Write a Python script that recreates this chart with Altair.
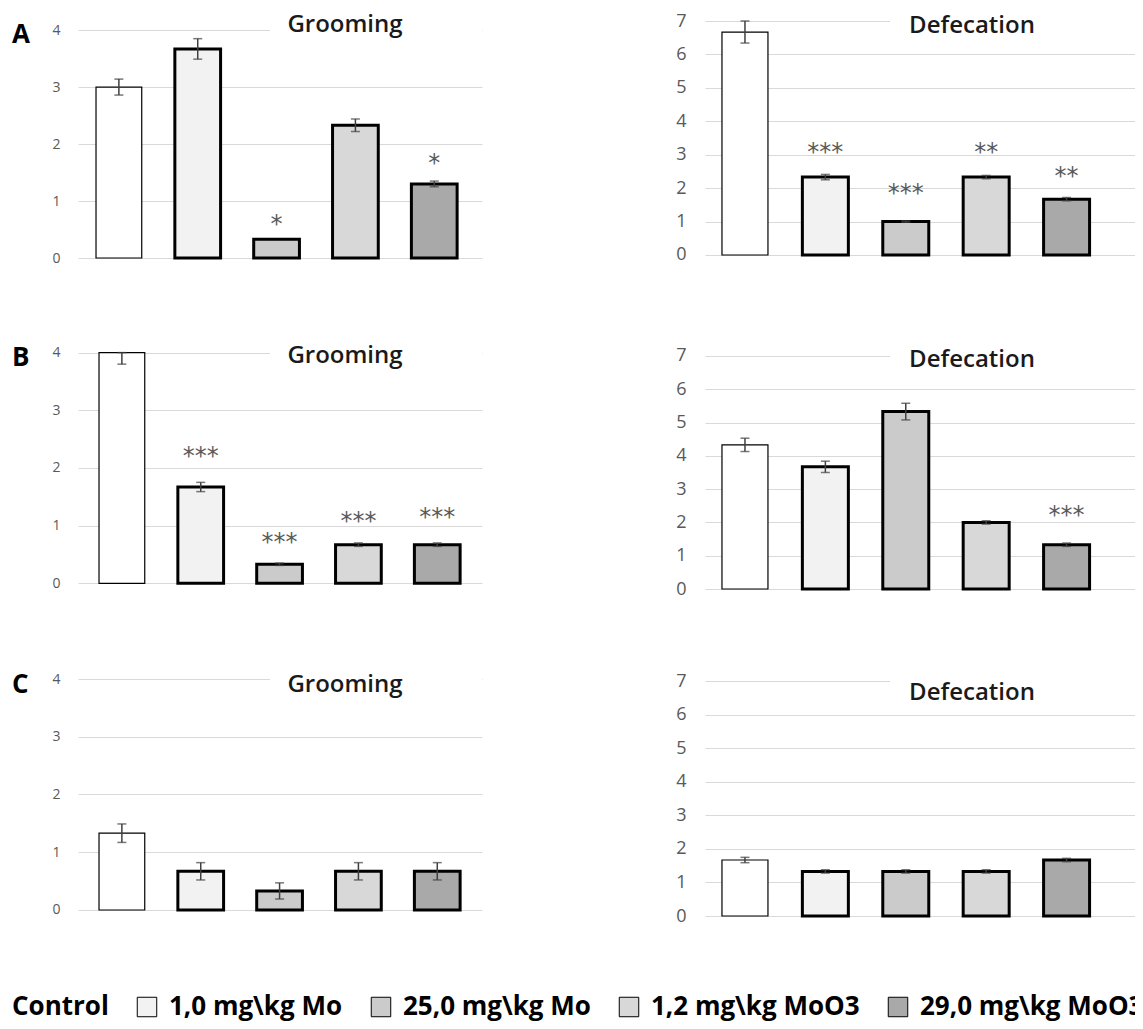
import altair as alt
import pandas as pd

groups = ["Control", "1,0 mg\\kg Mo", "25,0 mg\\kg Mo", "1,2 mg\\kg MoO3", "29,0 mg\\kg MoO3"]
fills = ["#ffffff", "#f2f2f2", "#cbcbcb", "#d8d8d8", "#a9a9a9"]

# Row A
a_groom = [3.0, 3.67, 0.33, 2.33, 1.3]
a_groom_err = [0.14, 0.18, 0.0, 0.11, 0.05]
a_groom_sig = ["", "", "*", "", "*"]
a_groom_sig_y = [0, 0, 0.69, 0, 1.76]

a_def = [6.67, 2.33, 1.0, 2.33, 1.67]
a_def_err = [0.33, 0.08, 0.02, 0.05, 0.05]
a_def_sig = ["", "***", "***", "**", "**"]
a_def_sig_y = [0, 3.22, 2.01, 3.22, 2.51]

# Row B
b_groom = [4.0, 1.67, 0.33, 0.67, 0.67]
b_groom_err = [0.2, 0.08, 0.02, 0.03, 0.03]
b_groom_sig = ["", "***", "***", "***", "***"]
b_groom_sig_y = [0, 2.30, 0.80, 1.17, 1.24]

b_def = [4.33, 3.67, 5.33, 2.0, 1.33]
b_def_err = [0.2, 0.17, 0.25, 0.05, 0.05]
b_def_sig = ["", "", "", "", "***"]
b_def_sig_y = [0, 0, 0, 0, 2.38]

# Row C
c_groom = [1.33, 0.67, 0.33, 0.67, 0.67]
c_groom_err = [0.16, 0.15, 0.14, 0.15, 0.15]
c_groom_sig = ["", "", "", "", ""]
c_groom_sig_y = [0, 0, 0, 0, 0]

c_def = [1.67, 1.33, 1.33, 1.33, 1.67]
c_def_err = [0.08, 0.05, 0.05, 0.05, 0.05]
c_def_sig = ["", "", "", "", ""]
c_def_sig_y = [0, 0, 0, 0, 0]

FONT = "Open Sans"


def panel(vals, errs, sig, sig_y, kind, title, title_y, domain, height,
          letter=None, letter_y=None, legend=False, band_align=None):
    if kind == "groom":
        W, ticks, top, cover_x, lab_size, lab_pad = 404, [0, 1, 2, 3, 4], 4, 192, 14, 18
        xs = alt.Scale(domain=groups, paddingInner=0.42, paddingOuter=0.272,
                       align=band_align if band_align is not None else 0.42)
    else:
        W, ticks, top, cover_x, lab_size, lab_pad = 430, list(range(8)), 7, 185, 18, 19
        xs = alt.Scale(domain=groups, paddingInner=0.428, paddingOuter=0.388, align=0.272)
    df = pd.DataFrame({"grp": groups, "val": vals, "err": errs, "sig": sig, "sig_y": sig_y})
    df["lo"] = df["val"] - df["err"]
    df["hi"] = (df["val"] + df["err"]).clip(upper=top)
    base = alt.Chart(df)
    x = alt.X("grp:N", scale=xs, axis=None, sort=groups)
    ys = alt.Scale(domain=domain, nice=False, zero=False)
    yax = alt.Axis(values=ticks, grid=True, ticks=False, tickSize=0, domain=False,
                   labelPadding=lab_pad, labelFontSize=lab_size, labelFont=FONT,
                   labelColor="#595959", gridColor="#d9d9d9", gridWidth=1, title=None)
    ypx = (domain[1] - top) / (domain[1] - domain[0]) * height

    one = alt.Chart(pd.DataFrame({"t": [title]}))
    cover = one.mark_rect(color="white").encode(
        x=alt.value(cover_x), x2=alt.value(W), y=alt.value(0), y2=alt.value(ypx + 3))

    leg = None
    if legend:
        leg = alt.Legend(orient="none", legendX=-101, legendY=973, direction="horizontal",
                         title=None, symbolType="square", symbolSize=380,
                         symbolStrokeColor="black", symbolStrokeWidth=1,
                         labelFont=FONT, labelFontSize=26, labelFontWeight="bold",
                         labelColor="black", columnPadding=25, labelOffset=9,
                         padding=0, labelLimit=500)
    bars = base.mark_bar(stroke="black").encode(
        x=x,
        y=alt.Y("val:Q", scale=ys, axis=yax),
        y2=alt.datum(0),
        fill=alt.Fill("grp:N", scale=alt.Scale(domain=groups, range=fills), legend=leg),
        strokeWidth=alt.condition(alt.datum.grp == "Control", alt.value(1.2), alt.value(3)),
    )
    eb = base.transform_filter("datum.err > 0")
    rule = eb.mark_rule(color="#404040", strokeWidth=1.5).encode(
        x=x, y=alt.Y("lo:Q", scale=ys, axis=yax), y2="hi:Q")
    cap_lo = eb.mark_tick(color="#404040", thickness=1.5, size=9).encode(
        x=x, y=alt.Y("lo:Q", scale=ys, axis=yax))
    cap_hi = eb.mark_tick(color="#404040", thickness=1.5, size=9).encode(
        x=x, y=alt.Y("hi:Q", scale=ys, axis=yax))
    stars = base.transform_filter("datum.sig != ''").mark_text(
        font="DejaVu Sans", fontSize=24, color="#595959", baseline="alphabetic", dy=13
    ).encode(x=x, y=alt.Y("sig_y:Q", scale=ys, axis=yax), text="sig:N")
    ttl = one.mark_text(font=FONT, fontSize=24, fontWeight=600, color="#1a1a1a",
                        align="center", baseline="alphabetic").encode(
        text="t:N", x=alt.value(267), y=alt.value(title_y))
    layers = [cover, bars, rule, cap_lo, cap_hi, stars, ttl]
    if letter:
        lt = alt.Chart(pd.DataFrame({"t": [letter]})).mark_text(
            font=FONT, fontSize=26, fontWeight="bold", color="black",
            align="left", baseline="alphabetic").encode(
            text="t:N", x=alt.value(-66), y=alt.value(letter_y))
        layers.append(lt)
    return alt.layer(*layers).properties(width=W, height=height)


panels = [
    panel(a_groom, a_groom_err, a_groom_sig, a_groom_sig_y, "groom", "Grooming", 11,
          [0, 4.16], 237, "A", 22, legend=True),
    panel(a_def, a_def_err, a_def_sig, a_def_sig_y, "def", "Defecation", 12,
          [-0.09, 7], 237),
    panel(b_groom, b_groom_err, b_groom_sig, b_groom_sig_y, "groom", "Grooming", 15,
          [-0.099, 4.08], 241, "B", 18, band_align=0.49),
    panel(b_def, b_def_err, b_def_sig, b_def_sig_y, "def", "Defecation", 19,
          [0, 7.24], 241),
    panel(c_groom, c_groom_err, c_groom_sig, c_groom_sig_y, "groom", "Grooming", 13,
          [-0.104, 4], 237, "C", 14, band_align=0.49),
    panel(c_def, c_def_err, c_def_sig, c_def_sig_y, "def", "Defecation", 21,
          [0, 7.07], 237),
]

chart = alt.concat(*panels, columns=2, spacing={"row": 90, "column": 223},
                   bounds="flush", align="each").properties(
    autosize=alt.AutoSizeParams(type="none"),
    padding={"left": 70, "top": 13, "right": 1057, "bottom": 1000},
).configure_view(stroke=None)

chart.save("out.html", embed_options={"renderer": "svg", "actions": False})
